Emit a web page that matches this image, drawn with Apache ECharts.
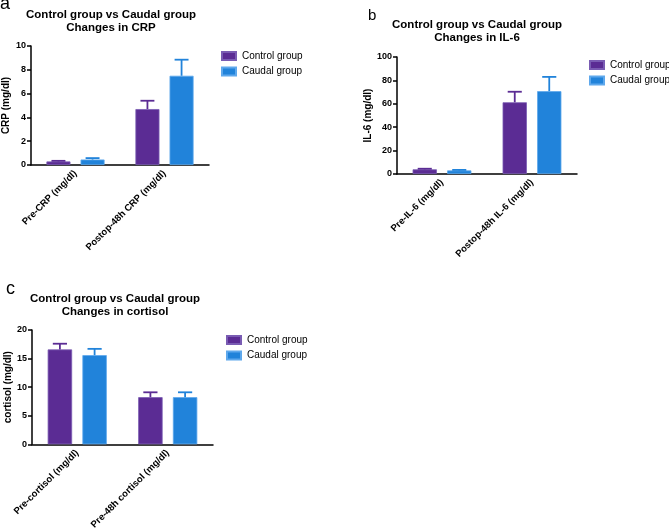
<!DOCTYPE html>
<html>
<head>
<meta charset="utf-8">
<script src="https://cdn.jsdelivr.net/npm/echarts@6/dist/echarts.min.js"></script>
<style>
html,body{margin:0;padding:0;background:#fff;}
#main{width:669px;height:532px;}
</style>
</head>
<body>
<div id="main"></div>
<script>
// ---- data ----
const seriesNames = ['Control group', 'Caudal group'];

const crpCategories = ['Pre-CRP (mg/dl)', 'Postop-48h CRP (mg/dl)'];
const crpControl = [0.3, 4.7];
const crpControlErr = [0.35, 5.4];
const crpCaudal = [0.46, 7.5];
const crpCaudalErr = [0.58, 8.85];
const crpTicks = { min: 0, max: 10, interval: 2 };

const il6Categories = ['Pre-IL-6 (mg/dl)', 'Postop-48h IL-6 (mg/dl)'];
const il6Control = [4.0, 61.3];
const il6ControlErr = [4.5, 70.3];
const il6Caudal = [3.1, 70.8];
const il6CaudalErr = [3.5, 83.0];
const il6Ticks = { min: 0, max: 100, interval: 20 };

const cortCategories = ['Pre-cortisol (mg/dl)', 'Pre-48h cortisol (mg/dl)'];
const cortControl = [16.6, 8.25];
const cortControlErr = [17.6, 9.1];
const cortCaudal = [15.6, 8.25];
const cortCaudalErr = [16.7, 9.1];
const cortTicks = { min: 0, max: 20, interval: 5 };

// ---- styles ----
const FONT = 'Arial, "Liberation Sans", sans-serif';
const colors = ['#5B2C94', '#2183DA'];
const borders = ['#7a5cb3', '#5ea8ec'];
const BAR_W = 0.27;   // fraction of band
const BAR_GAP = 0.42; // fraction of bar width

const chart = echarts.init(document.getElementById('main'), null, { renderer: 'canvas' });

const panels = [
  { cats: crpCategories, ctrl: crpControl, ctrlE: crpControlErr, cau: crpCaudal, cauE: crpCaudalErr, ticks: crpTicks,
    yName: 'CRP (mg/dl)', nameGap: 20, title: 'Control group vs Caudal group\nChanges in CRP',
    grid: { left: 30, top: 46, width: 179, height: 119 }, titleX: 111, titleY: 8.5,
    legend: { left: 221, top: 51 } },
  { cats: il6Categories, ctrl: il6Control, ctrlE: il6ControlErr, cau: il6Caudal, cauE: il6CaudalErr, ticks: il6Ticks,
    yName: 'IL-6 (mg/dl)', nameGap: 23, title: 'Control group vs Caudal group\nChanges in IL-6',
    grid: { left: 397, top: 57, width: 180, height: 117 }, titleX: 477, titleY: 18.5,
    legend: { left: 589, top: 60 } },
  { cats: cortCategories, ctrl: cortControl, ctrlE: cortControlErr, cau: cortCaudal, cauE: cortCaudalErr, ticks: cortTicks,
    yName: 'cortisol (mg/dl)', nameGap: 15, title: 'Control group vs Caudal group\nChanges in cortisol',
    grid: { left: 32, top: 330, width: 181, height: 118 }, titleX: 115, titleY: 292.5,
    legend: { left: 226, top: 335 } }
];

function errorRender(groupIdx, color) {
  return function (params, api) {
    const cat = api.value(0);
    const mean = api.value(1);
    const upper = api.value(2);
    const band = api.size([1, 0])[0];
    const barW = band * BAR_W;
    const off = (barW + barW * BAR_GAP) / 2 * (groupIdx === 0 ? -1 : 1);
    const p0 = api.coord([cat, mean]);
    const p1 = api.coord([cat, upper]);
    const x = p0[0] + off;
    const cap = barW * 0.58 / 2;
    return {
      type: 'group',
      children: [
        { type: 'line', shape: { x1: x, y1: p0[1], x2: x, y2: p1[1] }, style: { stroke: color, lineWidth: 1.8 } },
        { type: 'line', shape: { x1: x - cap, y1: p1[1], x2: x + cap, y2: p1[1] }, style: { stroke: color, lineWidth: 1.8 } }
      ]
    };
  };
}

const option = {
  animation: false,
  backgroundColor: '#fff',
  textStyle: { fontFamily: FONT },
  title: [], legend: [], grid: [], xAxis: [], yAxis: [], series: [],
  graphic: [
    { type: 'text', left: 0, top: -5, style: { text: 'a', fontSize: 18, fill: '#000', fontFamily: FONT } },
    { type: 'text', left: 368, top: 8, style: { text: 'b', fontSize: 15, fill: '#000', fontFamily: FONT } },
    { type: 'text', left: 6, top: 280, style: { text: 'c', fontSize: 18, fill: '#000', fontFamily: FONT } }
  ]
};

panels.forEach((p, i) => {
  option.title.push({
    text: p.title, left: p.titleX, top: p.titleY, textAlign: 'center', padding: 0,
    textStyle: { fontSize: 11.5, fontWeight: 'bold', lineHeight: 13, color: '#000', fontFamily: FONT }
  });
  option.legend.push({
    data: seriesNames, left: p.legend.left, top: p.legend.top, orient: 'vertical', padding: 0,
    itemWidth: 14, itemHeight: 8, itemGap: 5.5, icon: 'rect', selectedMode: false,
    textStyle: { fontSize: 10, color: '#000', fontFamily: FONT, padding: [0, 0, 0, 1] }
  });
  option.grid.push(Object.assign({ containLabel: false }, p.grid));
  option.xAxis.push({
    type: 'category', gridIndex: i, data: p.cats,
    axisLine: { lineStyle: { color: '#000', width: 1.5 } },
    axisTick: { alignWithLabel: true, length: 4, lineStyle: { color: '#000', width: 1.5 } },
    axisLabel: { rotate: 45, margin: 7, interval: 0, fontSize: 9.5, fontWeight: 'bold', color: '#000', fontFamily: FONT },
    splitLine: { show: false }
  });
  option.yAxis.push({
    type: 'value', gridIndex: i, min: p.ticks.min, max: p.ticks.max, interval: p.ticks.interval,
    name: p.yName, nameLocation: 'middle', nameGap: p.nameGap, nameRotate: 90,
    nameTextStyle: { fontSize: 10, fontWeight: 'bold', color: '#000', fontFamily: FONT },
    axisLine: { show: true, lineStyle: { color: '#000', width: 1.5 } },
    axisTick: { show: true, length: 4, lineStyle: { color: '#000', width: 1.5 } },
    axisLabel: { margin: 5, fontSize: 9, fontWeight: 'bold', color: '#000', fontFamily: FONT },
    splitLine: { show: false }
  });
  const groups = [[p.ctrl, p.ctrlE], [p.cau, p.cauE]];
  groups.forEach((g, k) => {
    option.series.push({
      name: seriesNames[k], type: 'bar', xAxisIndex: i, yAxisIndex: i,
      data: g[0], barWidth: (BAR_W * 100) + '%', barGap: (BAR_GAP * 100) + '%',
      itemStyle: { color: colors[k], borderColor: borders[k], borderWidth: 0.8 },
      z: 2
    });
  });
  groups.forEach((g, k) => {
    option.series.push({
      type: 'custom', xAxisIndex: i, yAxisIndex: i, z: 3,
      data: g[0].map((v, j) => [j, v, g[1][j]]),
      encode: { x: 0, y: 1 },
      renderItem: errorRender(k, colors[k]),
      silent: true
    });
  });
});

chart.setOption(option);
</script>
</body>
</html>
